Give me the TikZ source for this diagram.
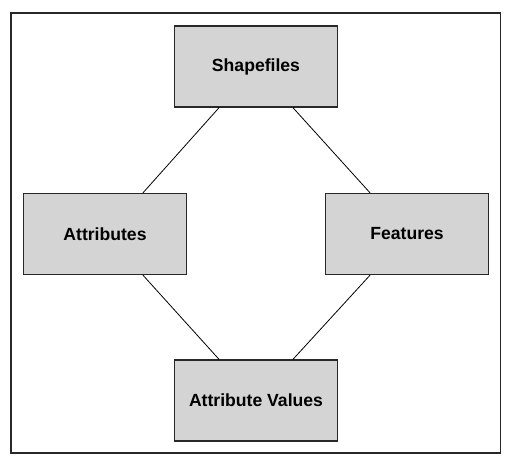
\documentclass[tikz,border=0pt]{standalone}
\usepackage{fontspec}
\setmainfont{Liberation Sans}
\usepackage{xcolor}
\usepackage{tikz}
\usetikzlibrary{calc,positioning}
\definecolor{boxgray}{RGB}{212,212,213}
\definecolor{edgegray}{RGB}{40,40,40}

\begin{document}
\begin{tikzpicture}[x=1pt,y=-1pt,
        entity/.style={draw=edgegray,line width=1.4pt,fill=boxgray,minimum width=163pt,minimum height=81pt,inner sep=0pt,font=\fontsize{17.6}{19}\selectfont\bfseries},
        link/.style={line width=0.8pt}]
            \useasboundingbox (0,0) rectangle (513,467);
            \draw[line width=1.3pt,edgegray](11,13)rectangle(500.5,453);
            \node[entity] (shp) at (256,66.5) {Shapefiles};
            \node[entity] (att) at (105,234) {Attributes};
            \node[entity] (feat) at (407,234) {Features};
            \node[entity] (val) at (256,400.5) {Attribute Values};
            \draw[link]([xshift=-37pt]shp.south)--([xshift=38pt]att.north);
            \draw[link]([xshift=37pt]shp.south)--([xshift=-37pt]feat.north);
            \draw[link]([xshift=38pt]att.south)--([xshift=-37pt]val.north);
            \draw[link]([xshift=-37pt]feat.south)--([xshift=37pt]val.north);
        \end{tikzpicture}
\end{document}
